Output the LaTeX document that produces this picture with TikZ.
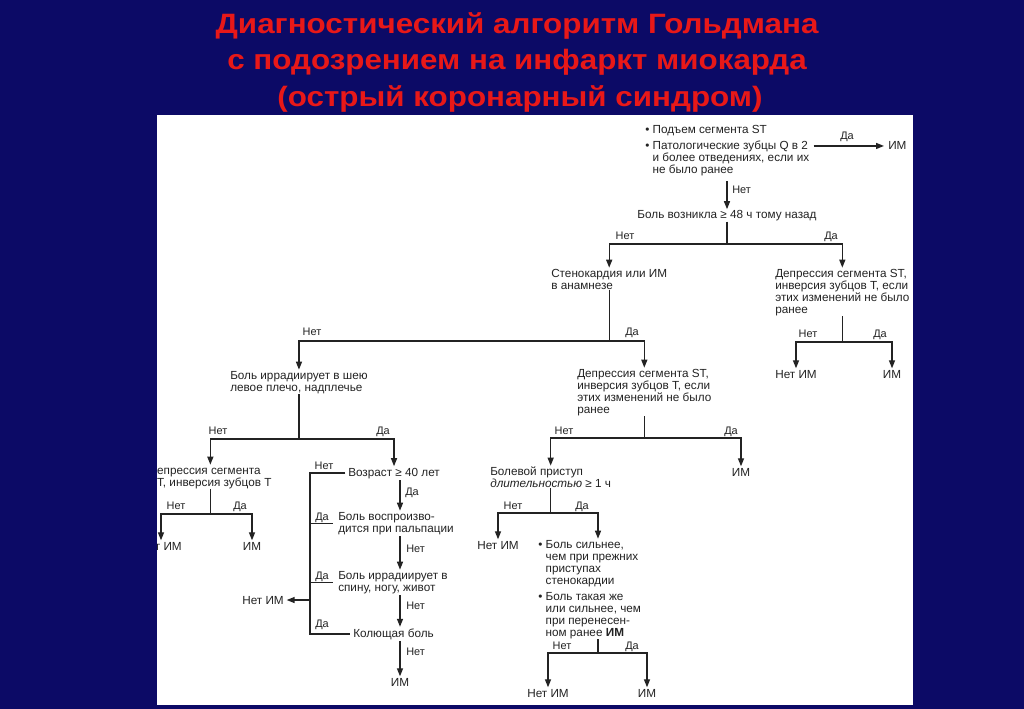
\documentclass[tikz,border=0pt]{standalone}
\usepackage{fontspec}
\setmainfont{Liberation Sans}
\usetikzlibrary{arrows.meta,calc}
\definecolor{navy}{RGB}{12,10,102}
\definecolor{tred}{RGB}{232,24,24}
\definecolor{ink}{RGB}{35,35,35}
\begin{document}
\begin{tikzpicture}[x=0.75pt,y=-0.75pt,
  txt/.style={font=\fontsize{8.8}{9}\selectfont, text=ink, inner sep=0pt, align=left},
  lbl/.style={font=\fontsize{8.2}{9}\selectfont, text=ink, inner sep=0pt},
  ttl/.style={font=\fontsize{21}{24}\selectfont\bfseries, text=tred, inner sep=0pt, xscale=1.12},
  ln/.style={draw=ink, line width=1pt},
  arr/.style={ln, -{Triangle[length=6pt,width=4.5pt]}, shorten >=1pt}]
\useasboundingbox (0,0) rectangle (1024,709);
\fill[navy] (0,0) rectangle (1024,709);
\fill[white] (157,115) rectangle (913,705);
% title
\node[ttl, anchor=base] (t1) at (517,34) {Диагностический алгоритм Гольдмана};
\node[ttl, anchor=base] (t2) at (517,70) {с подозрением на инфаркт миокарда};
\node[ttl, anchor=base] (t3) at (520,107) {(острый коронарный синдром)};
\begin{scope}
\clip (157,115) rectangle (913,705);
% y levels and columns
\coordinate (y1) at (0,244);
\coordinate (y2) at (0,341);
\coordinate (y3) at (0,342);
\coordinate (y4) at (0,439);
\coordinate (y5) at (0,438);
\coordinate (y6) at (0,514);
\coordinate (y7) at (0,513);
\coordinate (y8) at (0,653);
\coordinate (colx) at (400,0);
\coordinate (colL) at (310,0);
\coordinate (colB) at (598,0);
% nodes
\node[txt, anchor=north west] (n0) at (645,125) {• Подъем сегмента ST\\[3pt]• Патологические зубцы Q в 2\\\hphantom{• }и более отведениях, если их\\\hphantom{• }не было ранее};
\node[txt, anchor=base west] (im0) at (888,150) {ИМ};
\node[txt, anchor=base] (n1) at (727,219) {Боль возникла ≥ 48 ч тому назад};
\node[txt, anchor=north west] (n2) at (551,269) {Стенокардия или ИМ\\в анамнезе};
\node[txt, anchor=north west] (n3) at (775,269) {Депрессия сегмента ST,\\инверсия зубцов Т, если\\этих изменений не было\\ранее};
\node[txt, anchor=north west] (n4) at (230,371) {Боль иррадиирует в шею\\левое плечо, надплечье};
\node[txt, anchor=north west] (n5) at (577,369) {Депрессия сегмента ST,\\инверсия зубцов Т, если\\этих изменений не было\\ранее};
\node[txt, anchor=base] (n6) at (796,378) {Нет ИМ};
\node[txt, anchor=base] (n7) at (892,378) {ИМ};
\node[txt, anchor=north west] (n8) at (149,466) {Депрессия сегмента\\ST, инверсия зубцов Т};
\node[txt, anchor=base west] (n9) at (348,476) {Возраст ≥ 40 лет};
\node[txt, anchor=north west] (n10) at (490,467) {Болевой приступ\\\textit{длительностью} ≥ 1 ч};
\node[txt, anchor=base] (n11) at (741,476) {ИМ};
\node[txt, anchor=base] (n12) at (161,550) {Нет ИМ};
\node[txt, anchor=base] (n13) at (252,550) {ИМ};
\node[txt, anchor=north west] (n14) at (338,512) {Боль воспроизво-\\дится при пальпации};
\node[txt, anchor=north west] (n15) at (338,571) {Боль иррадиирует в\\спину, ногу, живот};
\node[txt, anchor=base west] (n16) at (353,637) {Колющая боль};
\node[txt, anchor=base] (n17) at (400,686) {ИМ};
\node[txt, anchor=base] (n18) at (263,604) {Нет ИМ};
\node[txt, anchor=base] (n19) at (498,549) {Нет ИМ};
\node[txt, anchor=north west] (n20) at (538,540) {• Боль сильнее,\\\hphantom{• }чем при прежних\\\hphantom{• }приступах\\\hphantom{• }стенокардии\\[3pt]• Боль такая же\\\hphantom{• }или сильнее, чем\\\hphantom{• }при перенесен-\\\hphantom{• }ном ранее \textbf{ИМ}};
\node[txt, anchor=base] (n21) at (548,697) {Нет ИМ};
\node[txt, anchor=base] (n22) at (647,697) {ИМ};
% labels
\node[lbl, anchor=base] (l0) at (847,140) {Да};
\node[lbl, anchor=base west] (l1) at (732,194) {Нет};
\node[lbl, anchor=base] (l2) at (625,240) {Нет};
\node[lbl, anchor=base] (l3) at (831,240) {Да};
\node[lbl, anchor=base] (l4) at (312,335) {Нет};
\node[lbl, anchor=base] (l5) at (632,335) {Да};
\node[lbl, anchor=base] (l6) at (808,337) {Нет};
\node[lbl, anchor=base] (l7) at (880,337) {Да};
\node[lbl, anchor=base] (l8) at (218,434) {Нет};
\node[lbl, anchor=base] (l9) at (383,434) {Да};
\node[lbl, anchor=base] (l10) at (564,434) {Нет};
\node[lbl, anchor=base] (l11) at (731,434) {Да};
\node[lbl, anchor=base] (l12) at (176,509) {Нет};
\node[lbl, anchor=base] (l13) at (240,509) {Да};
\node[lbl, anchor=base] (l14) at (324,469) {Нет};
\node[lbl, anchor=base] (l15) at (322,520) {Да};
\node[lbl, anchor=base] (l16) at (322,579) {Да};
\node[lbl, anchor=base] (l17) at (322,627) {Да};
\node[lbl, anchor=base west] (l18) at (405,495) {Да};
\node[lbl, anchor=base west] (l19) at (406,552) {Нет};
\node[lbl, anchor=base west] (l20) at (406,609) {Нет};
\node[lbl, anchor=base west] (l21) at (406,655) {Нет};
\node[lbl, anchor=base] (l22) at (513,509) {Нет};
\node[lbl, anchor=base] (l23) at (582,509) {Да};
\node[lbl, anchor=base] (l24) at (562,649) {Нет};
\node[lbl, anchor=base] (l25) at (632,649) {Да};
% connectors
\draw[arr, shorten <=3pt, shorten >=3pt] (n0.east |- im0.west) -- (im0.west);
\draw[arr, shorten <=4pt] (n1.north |- n0.south) -- (n1.north);
\draw[ln] (n1.south) -- (n1.south |- y1);
\draw[arr] (n1.south |- y1) -| (n2.north);
\draw[arr] (n1.south |- y1) -| (n3.north);
\draw[ln] (n2.south) -- (n2.south |- y2);
\draw[arr] (n2.south |- y2) -| (n4.north);
\draw[arr] (n2.south |- y2) -| (n5.north);
\draw[ln] (n3.south) -- (n3.south |- y3);
\draw[arr] (n3.south |- y3) -| (n6.north);
\draw[arr] (n3.south |- y3) -| (n7.north);
\draw[ln] (n4.south) -- (n4.south |- y4);
\draw[arr] (n4.south |- y4) -| (n8.north);
\draw[arr] (n4.south |- y4) -| (n9.north);
\draw[ln] (n5.south) -- (n5.south |- y5);
\draw[arr] (n5.south |- y5) -| (n10.north);
\draw[arr] (n5.south |- y5) -| (n11.north);
\draw[ln] (n8.south) -- (n8.south |- y6);
\draw[arr] (n8.south |- y6) -| (n12.north);
\draw[arr] (n8.south |- y6) -| (n13.north);
% age chain
\draw[arr, shorten <=1pt] (n9.south -| colx) -- (n14.north -| colx);
\draw[arr, shorten <=1pt] (n14.south -| colx) -- (n15.north -| colx);
\draw[arr, shorten <=1pt] (n15.south -| colx) -- (n16.north -| colx);
\draw[arr, shorten <=1pt] (n16.south -| colx) -- (n17.north -| colx);
% bracket
\draw[ln, shorten <=2pt] (n9.west) -| (colL |- n16.west) -- ([xshift=-2pt]n16.west);
\draw[ln] (colL |- n14.west) -- ([xshift=-4pt]n14.west);
\draw[ln] (colL |- n15.west) -- ([xshift=-4pt]n15.west);
\draw[arr, shorten >=2pt] (colL |- n18.east) -- (n18.east);
% bottom middle
\draw[ln] (n10.south) -- (n10.south |- y7);
\draw[arr] (n10.south |- y7) -| (n19.north);
\draw[arr] (n10.south |- y7) -| (n20.north -| colB);
\draw[ln] (n20.south -| colB) -- (colB |- y8);
\draw[arr] (colB |- y8) -| (n21.north);
\draw[arr] (colB |- y8) -| (n22.north);
\end{scope}
\end{tikzpicture}
\end{document}
